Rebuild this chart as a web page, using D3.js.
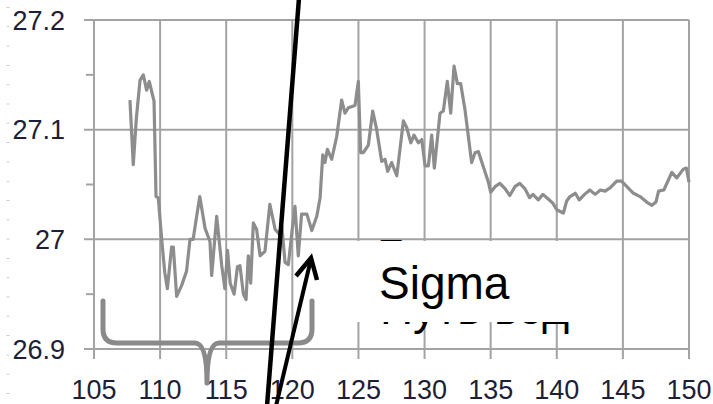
<!DOCTYPE html>
<html>
<head>
<meta charset="utf-8">
<script src="https://cdnjs.cloudflare.com/ajax/libs/d3/7.8.5/d3.min.js"></script>
<style>
  html, body { margin: 0; padding: 0; background: #fff; }
  svg { display: block; }
</style>
</head>
<body>
<svg id="chart" width="713" height="404"></svg>
<script>
// series
const xValues = [
  107.72, 107.97, 108.2, 108.48, 108.73, 108.98, 109.18, 109.36, 109.54, 109.69,
  109.86, 110.12, 110.35, 110.55, 110.87, 111.0, 111.25, 111.63, 112.0, 112.26,
  112.5, 112.75, 113.0, 113.4, 113.77, 113.9, 114.28, 114.66, 114.9, 115.1,
  115.3, 115.6, 115.85, 116.04, 116.3, 116.5, 116.67, 116.85, 117.05, 117.3,
  117.56, 117.93, 118.3, 118.7, 119.0, 119.2, 119.45, 119.7, 120.0, 120.2,
  120.45, 120.7, 121.1, 121.47, 121.85, 122.1, 122.3, 122.47, 122.65, 122.98,
  123.36, 123.73, 123.98, 124.24, 124.74, 124.99, 125.17, 125.37, 125.75, 126.08,
  126.38, 126.76, 127.01, 127.21, 127.51, 127.9, 128.4, 128.65, 128.96, 129.2,
  129.53, 129.79, 130.04, 130.29, 130.54, 130.74, 131.17, 131.42, 131.72, 131.98,
  132.23, 132.48, 132.73, 133.06, 133.3, 133.56, 133.82, 134.07, 134.45, 134.83,
  135.0, 135.33, 135.7, 136.1, 136.45, 136.83, 137.2, 137.6, 137.95, 138.2,
  138.6, 138.95, 139.33, 139.7, 140.0, 140.5, 140.75, 141.0, 141.4, 141.7,
  142.1, 142.5, 142.9, 143.3, 143.65, 144.03, 144.53, 144.9, 145.3, 145.8,
  146.3, 146.8, 147.2, 147.5, 147.7, 148.1, 148.7, 149.07, 149.57, 149.8,
  150.0
];
const yValues = [
  27.127, 27.068, 27.11, 27.145, 27.15, 27.136, 27.144, 27.135, 27.126, 27.039,
  27.038, 27.0, 26.97, 26.955, 26.993, 26.993, 26.948, 26.958, 26.971, 27.0,
  27.0, 27.02, 27.039, 27.01, 26.998, 26.967, 27.021, 26.976, 26.955, 26.99,
  26.96, 26.95, 26.975, 26.976, 26.95, 26.945, 26.985, 26.96, 27.015, 27.009,
  26.985, 26.989, 27.032, 27.009, 27.005, 27.012, 26.979, 26.977, 27.01, 27.03,
  26.985, 27.023, 27.023, 27.008, 27.021, 27.038, 27.077, 27.07, 27.082, 27.073,
  27.094, 27.127, 27.115, 27.12, 27.122, 27.144, 27.079, 27.079, 27.086, 27.117,
  27.1, 27.071, 27.073, 27.062, 27.07, 27.058, 27.108, 27.102, 27.088, 27.095,
  27.088, 27.091, 27.067, 27.067, 27.095, 27.065, 27.115, 27.117, 27.144, 27.115,
  27.158, 27.142, 27.142, 27.118, 27.095, 27.07, 27.079, 27.08, 27.066, 27.052,
  27.043, 27.048, 27.051, 27.046, 27.04, 27.048, 27.051, 27.046, 27.038, 27.041,
  27.036, 27.041, 27.037, 27.033, 27.027, 27.024, 27.035, 27.039, 27.042, 27.036,
  27.041, 27.045, 27.041, 27.045, 27.044, 27.047, 27.053, 27.053, 27.048, 27.042,
  27.039, 27.034, 27.031, 27.034, 27.044, 27.045, 27.061, 27.056, 27.064, 27.065,
  27.052
];

const xTicks = [105, 110, 115, 120, 125, 130, 135, 140, 145, 150];
const yTicks = [26.9, 27.0, 27.1, 27.2];
const yMinorTicks = [26.95, 27.05, 27.15];
const yTickLabels = ['26.9', '27', '27.1', '27.2'];

window.Chart = window.Chart || {};

Chart.init = function() {
    Chart.svg = d3.select('#chart');
    Chart.x = d3.scaleLinear().domain([105, 150]).range([94, 689]);
    Chart.y = d3.scaleLinear().domain([26.9, 27.2]).range([349, 20]);

    Chart.draw.margin();
    Chart.draw.grid();
    Chart.draw.axes();
    Chart.draw.series();
    Chart.draw.brace();
    Chart.draw.pointers();
    Chart.draw.label();
};

Chart.draw = {
    margin: function() {
        // faint dotted column on the far left
        Chart.svg.append('line')
            .attr('x1', 8).attr('x2', 8)
            .attr('y1', 7).attr('y2', 404)
            .attr('stroke', '#c9ced9')
            .attr('stroke-width', 3)
            .attr('stroke-dasharray', '1 18.3');
    },

    grid: function() {
        let g = Chart.svg.append('g').attr('stroke', '#a3a3a3').attr('stroke-width', 2);

        g.selectAll('.hgrid').data(yTicks).enter().append('line')
            .attr('x1', 84).attr('x2', Chart.x(150))
            .attr('y1', d => Chart.y(d)).attr('y2', d => Chart.y(d));

        g.selectAll('.vgrid').data(xTicks).enter().append('line')
            .attr('x1', d => Chart.x(d)).attr('x2', d => Chart.x(d))
            .attr('y1', Chart.y(27.2)).attr('y2', Chart.y(26.9) + 10);

        g.selectAll('.minor').data(yMinorTicks).enter().append('line')
            .attr('x1', 86).attr('x2', Chart.x(105))
            .attr('y1', d => Chart.y(d)).attr('y2', d => Chart.y(d));
    },

    axes: function() {
        let font = "'Liberation Sans', Arial, sans-serif";

        Chart.svg.append('g').selectAll('text').data(yTicks).enter().append('text')
            .attr('x', 65)
            .attr('y', d => Chart.y(d) + 9.5)
            .attr('text-anchor', 'end')
            .attr('font-family', font)
            .attr('font-size', 27)
            .attr('fill', '#1e1e36')
            .text((d, i) => yTickLabels[i]);

        Chart.svg.append('g').selectAll('text').data(xTicks).enter().append('text')
            .attr('x', d => Chart.x(d))
            .attr('y', 399)
            .attr('text-anchor', 'middle')
            .attr('font-family', font)
            .attr('font-size', 27)
            .attr('fill', '#1e1e36')
            .text(d => d);
    },

    series: function() {
        let line = d3.line()
            .x((d, i) => Chart.x(xValues[i]))
            .y(d => Chart.y(d));

        Chart.svg.append('path')
            .attr('d', line(yValues))
            .attr('fill', 'none')
            .attr('stroke', '#8d8d8d')
            .attr('stroke-width', 3.2)
            .attr('stroke-linejoin', 'round');
    },

    brace: function() {
        let l = 103, r = 312, c = 207;
        let top = 301, bar = 343, tip = 383;
        let p = d3.path();
        p.moveTo(l, top);
        p.lineTo(l, bar - 14);
        p.quadraticCurveTo(l, bar, l + 14, bar);
        p.lineTo(c - 12, bar);
        p.quadraticCurveTo(c, bar, c, tip);
        p.quadraticCurveTo(c, bar, c + 12, bar);
        p.lineTo(r - 14, bar);
        p.quadraticCurveTo(r, bar, r, bar - 14);
        p.lineTo(r, top);

        Chart.svg.append('path')
            .attr('d', p.toString())
            .attr('fill', 'none')
            .attr('stroke', '#8a8a8a')
            .attr('stroke-width', 5)
            .attr('stroke-linecap', 'round')
            .attr('stroke-linejoin', 'round');
    },

    pointers: function() {
        Chart.svg.append('line')
            .attr('x1', 299).attr('y1', -2)
            .attr('x2', 267).attr('y2', 406)
            .attr('stroke', '#000')
            .attr('stroke-width', 4.5);

        Chart.svg.append('line')
            .attr('x1', 276).attr('y1', 406)
            .attr('x2', 311).attr('y2', 259)
            .attr('stroke', '#000')
            .attr('stroke-width', 4);

        Chart.svg.append('path')
            .attr('d', 'M296,276 L311,258 L317,280')
            .attr('fill', 'none')
            .attr('stroke', '#000')
            .attr('stroke-width', 4.5)
            .attr('stroke-linejoin', 'miter');
    },

    label: function() {
        let font = "'Liberation Sans', Arial, sans-serif";

        // text sitting behind the label box, only its edges peek out
        Chart.svg.append('defs').append('clipPath').attr('id', 'peek')
            .selectAll('rect').data([[340, 230, 240, 11], [340, 322, 240, 20]])
            .enter().append('rect')
            .attr('x', d => d[0]).attr('y', d => d[1])
            .attr('width', d => d[2]).attr('height', d => d[3]);

        let hidden = Chart.svg.append('g').attr('clip-path', 'url(#peek)');
        hidden.append('text')
            .attr('x', 377).attr('y', 272)
            .attr('font-family', font).attr('font-size', 46)
            .attr('fill', '#000')
            .text('Бурение');
        hidden.append('text')
            .attr('x', 380).attr('y', 324)
            .attr('font-family', font).attr('font-size', 46)
            .attr('fill', '#000')
            .text('Путь вод');

        Chart.svg.append('rect')
            .attr('x', 357).attr('y', 241)
            .attr('width', 206).attr('height', 81)
            .attr('fill', '#fff');

        Chart.svg.append('text')
            .attr('x', 379).attr('y', 299)
            .attr('font-family', font).attr('font-size', 46)
            .attr('fill', '#000')
            .text('Sigma');
    }
};

Chart.init();
</script>
</body>
</html>
